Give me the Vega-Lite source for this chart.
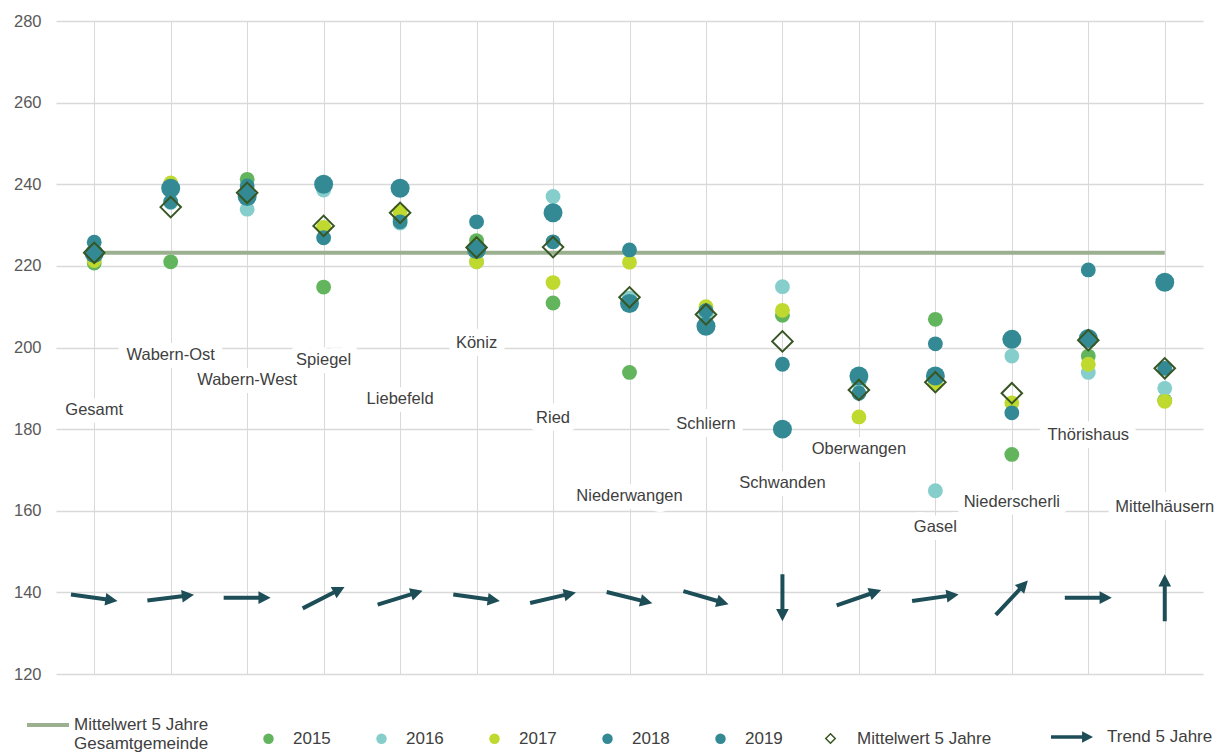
{
  "$schema": "https://vega.github.io/schema/vega-lite/v6.json",
  "width": 1147,
  "height": 653,
  "autosize": {"type": "none"},
  "padding": {"left": 56, "top": 21, "right": 16, "bottom": 79},
  "background": "white",
  "config": {
    "font": "Liberation Sans",
    "view": {"stroke": null},
    "axisY": {"domain": false, "ticks": false, "labelPadding": 15, "labelFontSize": 16.5, "labelColor": "#595959", "labelFont": "Liberation Sans", "gridColor": "#d9d9d9", "gridWidth": 1.5, "title": null},
    "axisX": {"domain": false, "ticks": false, "labels": false, "grid": true, "gridColor": "#d9d9d9", "gridWidth": 1, "title": null},
    "legend": {"labelFontSize": 17, "labelColor": "#404040", "labelFont": "Liberation Sans", "title": null, "padding": 0}
  },
  "datasets": {
    "orte": [
      {"ort": "Gesamt", "mittel": 223.2, "gesamt": 223.2, "labelY": 184.7, "trend": 8},
      {"ort": "Wabern-Ost", "mittel": 234.4, "gesamt": 223.2, "labelY": 198.2, "trend": 353},
      {"ort": "Wabern-West", "mittel": 237.9, "gesamt": 223.2, "labelY": 192.0, "trend": 0},
      {"ort": "Spiegel", "mittel": 229.8, "gesamt": 223.2, "labelY": 196.9, "trend": 333},
      {"ort": "Liebefeld", "mittel": 233.0, "gesamt": 223.2, "labelY": 187.3, "trend": 343},
      {"ort": "Köniz", "mittel": 224.5, "gesamt": 223.2, "labelY": 201.2, "trend": 8},
      {"ort": "Ried", "mittel": 224.6, "gesamt": 223.2, "labelY": 182.7, "trend": 347},
      {"ort": "Niederwangen", "mittel": 212.3, "gesamt": 223.2, "labelY": 163.6, "trend": 14},
      {"ort": "Schliern", "mittel": 208.1, "gesamt": 223.2, "labelY": 181.3, "trend": 16},
      {"ort": "Schwanden", "mittel": 201.5, "gesamt": 223.2, "labelY": 166.9, "trend": 90},
      {"ort": "Oberwangen", "mittel": 189.6, "gesamt": 223.2, "labelY": 175.1, "trend": 341},
      {"ort": "Gasel", "mittel": 191.5, "gesamt": 223.2, "labelY": 156.1, "trend": 352},
      {"ort": "Niederscherli", "mittel": 188.8, "gesamt": 223.2, "labelY": 162.2, "trend": 313},
      {"ort": "Thörishaus", "mittel": 201.8, "gesamt": 223.2, "labelY": 178.6, "trend": 0},
      {"ort": "Mittelhäusern", "mittel": 194.9, "gesamt": 223.2, "labelY": 161.0, "trend": 270}
    ],
    "werte": [
      {"ort": "Gesamt", "jahr": "2015", "wert": 220.7},
      {"ort": "Wabern-Ost", "jahr": "2015", "wert": 221.0},
      {"ort": "Wabern-West", "jahr": "2015", "wert": 241.2},
      {"ort": "Spiegel", "jahr": "2015", "wert": 214.8},
      {"ort": "Liebefeld", "jahr": "2015", "wert": 231.5},
      {"ort": "Köniz", "jahr": "2015", "wert": 226.2},
      {"ort": "Ried", "jahr": "2015", "wert": 210.9},
      {"ort": "Niederwangen", "jahr": "2015", "wert": 193.9},
      {"ort": "Schliern", "jahr": "2015", "wert": 208.0},
      {"ort": "Schwanden", "jahr": "2015", "wert": 207.9},
      {"ort": "Oberwangen", "jahr": "2015", "wert": 191.5},
      {"ort": "Gasel", "jahr": "2015", "wert": 206.9},
      {"ort": "Niederscherli", "jahr": "2015", "wert": 173.8},
      {"ort": "Thörishaus", "jahr": "2015", "wert": 197.9},
      {"ort": "Mittelhäusern", "jahr": "2015", "wert": 187.0},
      {"ort": "Gesamt", "jahr": "2016", "wert": 223.5},
      {"ort": "Wabern-Ost", "jahr": "2016", "wert": 235.5},
      {"ort": "Wabern-West", "jahr": "2016", "wert": 233.9},
      {"ort": "Spiegel", "jahr": "2016", "wert": 238.6},
      {"ort": "Liebefeld", "jahr": "2016", "wert": 230.5},
      {"ort": "Köniz", "jahr": "2016", "wert": 221.0},
      {"ort": "Ried", "jahr": "2016", "wert": 237.0},
      {"ort": "Niederwangen", "jahr": "2016", "wert": 212.1},
      {"ort": "Schliern", "jahr": "2016", "wert": 208.2},
      {"ort": "Schwanden", "jahr": "2016", "wert": 214.9},
      {"ort": "Oberwangen", "jahr": "2016", "wert": 191.6},
      {"ort": "Gasel", "jahr": "2016", "wert": 164.9},
      {"ort": "Niederscherli", "jahr": "2016", "wert": 197.9},
      {"ort": "Thörishaus", "jahr": "2016", "wert": 193.9},
      {"ort": "Mittelhäusern", "jahr": "2016", "wert": 190.0},
      {"ort": "Gesamt", "jahr": "2017", "wert": 221.3},
      {"ort": "Wabern-Ost", "jahr": "2017", "wert": 240.3},
      {"ort": "Wabern-West", "jahr": "2017", "wert": 237.5},
      {"ort": "Spiegel", "jahr": "2017", "wert": 229.4},
      {"ort": "Liebefeld", "jahr": "2017", "wert": 233.3},
      {"ort": "Köniz", "jahr": "2017", "wert": 221.0},
      {"ort": "Ried", "jahr": "2017", "wert": 215.9},
      {"ort": "Niederwangen", "jahr": "2017", "wert": 220.9},
      {"ort": "Schliern", "jahr": "2017", "wert": 210.0},
      {"ort": "Schwanden", "jahr": "2017", "wert": 209.1},
      {"ort": "Oberwangen", "jahr": "2017", "wert": 183.0},
      {"ort": "Gasel", "jahr": "2017", "wert": 191.2},
      {"ort": "Niederscherli", "jahr": "2017", "wert": 186.4},
      {"ort": "Thörishaus", "jahr": "2017", "wert": 195.9},
      {"ort": "Mittelhäusern", "jahr": "2017", "wert": 186.8},
      {"ort": "Gesamt", "jahr": "2018", "wert": 225.8},
      {"ort": "Wabern-Ost", "jahr": "2018", "wert": 235.7},
      {"ort": "Wabern-West", "jahr": "2018", "wert": 239.6},
      {"ort": "Spiegel", "jahr": "2018", "wert": 226.9},
      {"ort": "Liebefeld", "jahr": "2018", "wert": 230.8},
      {"ort": "Köniz", "jahr": "2018", "wert": 230.8},
      {"ort": "Ried", "jahr": "2018", "wert": 225.9},
      {"ort": "Niederwangen", "jahr": "2018", "wert": 223.9},
      {"ort": "Schliern", "jahr": "2018", "wert": 209.0},
      {"ort": "Schwanden", "jahr": "2018", "wert": 195.9},
      {"ort": "Oberwangen", "jahr": "2018", "wert": 188.8},
      {"ort": "Gasel", "jahr": "2018", "wert": 200.9},
      {"ort": "Niederscherli", "jahr": "2018", "wert": 184.0},
      {"ort": "Thörishaus", "jahr": "2018", "wert": 219.0},
      {"ort": "Mittelhäusern", "jahr": "2018", "wert": 194.9},
      {"ort": "Gesamt", "jahr": "2019", "wert": 223.0},
      {"ort": "Wabern-Ost", "jahr": "2019", "wert": 239.0},
      {"ort": "Wabern-West", "jahr": "2019", "wert": 237.0},
      {"ort": "Spiegel", "jahr": "2019", "wert": 240.0},
      {"ort": "Liebefeld", "jahr": "2019", "wert": 239.0},
      {"ort": "Köniz", "jahr": "2019", "wert": 224.0},
      {"ort": "Ried", "jahr": "2019", "wert": 233.0},
      {"ort": "Niederwangen", "jahr": "2019", "wert": 210.8},
      {"ort": "Schliern", "jahr": "2019", "wert": 205.2},
      {"ort": "Schwanden", "jahr": "2019", "wert": 180.0},
      {"ort": "Oberwangen", "jahr": "2019", "wert": 193.0},
      {"ort": "Gasel", "jahr": "2019", "wert": 193.0},
      {"ort": "Niederscherli", "jahr": "2019", "wert": 202.0},
      {"ort": "Thörishaus", "jahr": "2019", "wert": 202.2},
      {"ort": "Mittelhäusern", "jahr": "2019", "wert": 216.0}
    ]
  },
  "layer": [
    {
      "data": {"name": "orte"},
      "mark": {"type": "text", "fill": "white", "stroke": "white", "strokeWidth": 16, "strokeJoin": "round", "fontSize": 16.5, "font": "Liberation Sans", "align": "center", "baseline": "middle"},
      "encoding": {
        "x": {"field": "ort", "type": "nominal", "sort": null, "scale": {"type": "point", "padding": 0.5, "domain": ["Gesamt", "Wabern-Ost", "Wabern-West", "Spiegel", "Liebefeld", "Köniz", "Ried", "Niederwangen", "Schliern", "Schwanden", "Oberwangen", "Gasel", "Niederscherli", "Thörishaus", "Mittelhäusern"]}, "axis": {"grid": true, "labels": false, "ticks": false, "domain": false, "title": null}},
        "y": {"field": "labelY", "type": "quantitative", "scale": {"domain": [120, 280], "nice": false, "zero": false}, "axis": {"values": [120, 140, 160, 180, 200, 220, 240, 260, 280], "title": null}},
        "text": {"field": "ort", "type": "nominal"}
      }
    },
    {
      "data": {"name": "orte"},
      "mark": {"type": "text", "fill": "#404040", "fontSize": 16.5, "font": "Liberation Sans", "align": "center", "baseline": "middle"},
      "encoding": {
        "x": {"field": "ort", "type": "nominal", "sort": null},
        "y": {"field": "labelY", "type": "quantitative"},
        "text": {"field": "ort", "type": "nominal"}
      }
    },
    {
      "data": {"name": "orte"},
      "mark": {"type": "line", "strokeWidth": 4},
      "encoding": {
        "x": {"field": "ort", "type": "nominal", "sort": null},
        "y": {"field": "gesamt", "type": "quantitative"},
        "stroke": {"datum": "Mittelwert 5 Jahre Gesamtgemeinde", "type": "nominal", "scale": {"range": ["#9bb08f"]}, "legend": {"orient": "none", "legendX": -31, "legendY": 681, "symbolType": "stroke", "symbolSize": 1764, "symbolStrokeWidth": 4, "labelOffset": 3, "labelExpr": "['Mittelwert 5 Jahre', 'Gesamtgemeinde']", "labelBaseline": "middle", "labelLimit": 300}}
      }
    },
    {
      "data": {"name": "werte"},
      "mark": {"type": "circle", "opacity": 1},
      "encoding": {
        "x": {"field": "ort", "type": "nominal", "sort": null},
        "y": {"field": "wert", "type": "quantitative"},
        "color": {"field": "jahr", "type": "nominal", "scale": {"domain": ["2015", "2016", "2017", "2018", "2019"], "range": ["#62b55d", "#86cecb", "#c0d92f", "#338a94", "#338a94"]}, "legend": {"orient": "none", "legendX": 204, "legendY": 709, "direction": "horizontal", "symbolType": "circle", "symbolSize": 110, "labelOffset": 16, "columnPadding": 42}},
        "size": {"field": "jahr", "type": "nominal", "scale": {"type": "ordinal", "domain": ["2015", "2016", "2017", "2018", "2019"], "range": [220, 220, 220, 220, 360]}, "legend": null}
      }
    },
    {
      "data": {"name": "orte"},
      "mark": {"type": "point", "filled": false, "stroke": "#375623", "strokeWidth": 2, "size": 420, "opacity": 1},
      "encoding": {
        "x": {"field": "ort", "type": "nominal", "sort": null},
        "y": {"field": "mittel", "type": "quantitative"},
        "shape": {"datum": "Mittelwert 5 Jahre", "type": "nominal", "scale": {"range": ["diamond"]}, "legend": {"orient": "none", "legendX": 766, "legendY": 709, "symbolSize": 90, "symbolStrokeColor": "#375623", "symbolStrokeWidth": 1.5, "symbolFillColor": "transparent", "labelOffset": 18}}
      }
    },
    {
      "data": {"name": "orte"},
      "mark": {"type": "point", "filled": true, "fill": "#1d4e57", "strokeWidth": 0, "size": 2209, "opacity": 1},
      "encoding": {
        "x": {"field": "ort", "type": "nominal", "sort": null},
        "y": {"datum": 138.7, "type": "quantitative"},
        "angle": {"field": "trend", "type": "quantitative", "scale": null},
        "shape": {"datum": "Trend 5 Jahre", "type": "nominal", "scale": {"range": ["M-1,-0.085L0.48,-0.085L0.48,-0.27L1,0L0.48,0.27L0.48,0.085L-1,0.085Z"]}, "legend": {"orient": "none", "legendX": 995, "legendY": 695, "symbolSize": 1764, "symbolFillColor": "#1d4e57", "symbolStrokeWidth": 0, "labelOffset": 14}}
      }
    }
  ],
  "resolve": {"scale": {"shape": "independent", "size": "independent"}}
}
